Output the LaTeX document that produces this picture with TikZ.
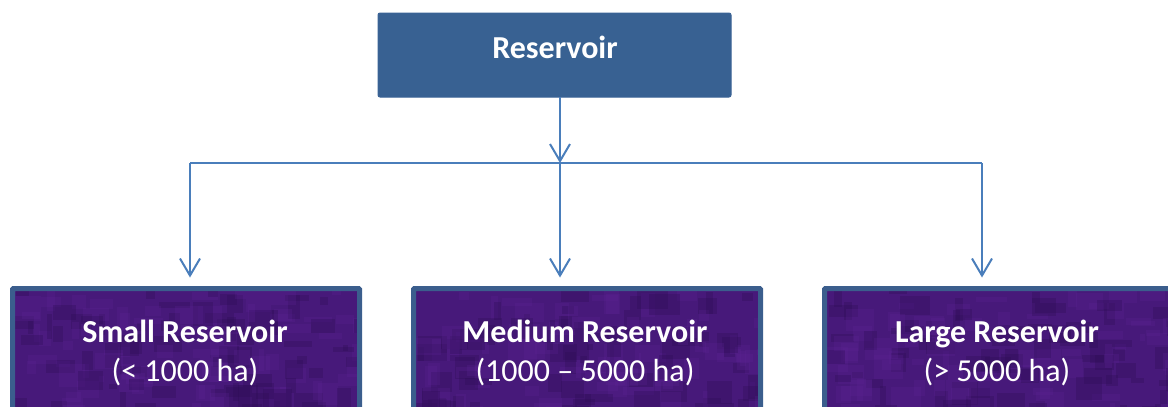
\documentclass[tikz,border=0pt]{standalone}
\usepackage{fontspec}
\setmainfont{Carlito}
\usetikzlibrary{arrows.meta,calc}

\definecolor{rootfill}{HTML}{386192}
\definecolor{rootedge}{HTML}{3A6396}
\definecolor{linkblue}{HTML}{4A7EBB}
\definecolor{catedge}{HTML}{3B5E8D}
\definecolor{catfill}{HTML}{47197A}
\definecolor{catdark}{HTML}{2E0C55}
\definecolor{catlight}{HTML}{5C2494}

\tikzset{
  rootbox/.style={draw=rootedge, fill=rootfill, line width=1pt, rounded corners=2pt,
    minimum width=353pt, minimum height=84pt, inner sep=0pt, outer sep=0pt},
  catbox/.style={fill=catfill, rounded corners=1pt,
    minimum width=347pt, minimum height=200pt, inner sep=0pt, outer sep=0pt},
  catframe/.style={draw=catedge, line width=5pt, rounded corners=1pt},
  speckdark/.style={fill=catdark, opacity=0.30},
  specklight/.style={fill=catlight, opacity=0.25},
  titletext/.style={text=white, font=\fontsize{32}{38}\selectfont\bfseries, inner sep=0pt, anchor=base},
  rangetext/.style={text=white, font=\fontsize{32}{38}\selectfont, inner sep=0pt, anchor=base},
  link/.style={draw=linkblue, line width=2pt,
    -{Straight Barb[length=17pt, width=20pt, line width=2pt]}},
  bus/.style={draw=linkblue, line width=2pt},
}

% mottled texture over the visible part of a box: #1 = node name, #2 = seed
\newcommand\mottlebox[2]{%
  \begin{scope}
    \clip (#1.north west) rectangle (#1.south east);
    \pgfmathsetseed{#2}
    \foreach \i in {1,...,160}{
      \pgfmathsetmacro\px{rnd*350}
      \pgfmathsetmacro\py{rnd*125}
      \pgfmathsetmacro\pw{5+rnd*26}
      \pgfmathsetmacro\ph{5+rnd*20}
      \ifodd\i
        \fill[speckdark] ($(#1.north west)+(\px,\py)$) rectangle ++(\pw,\ph);
      \else
        \fill[specklight] ($(#1.north west)+(\px,\py)$) rectangle ++(\pw,\ph);
      \fi
    }
  \end{scope}
  \draw[catframe] (#1.north west) rectangle (#1.south east);
}

\begin{document}
\begin{tikzpicture}[x=1pt, y=-1pt]
  \clip (0,0) rectangle (1168,407);

  % root of the hierarchy
  \node[rootbox, anchor=north west] (root) at (378,13) {};
  \node[titletext] (rootlabel) at (555,58) {Reservoir};

  % three size classes
  \node[catbox, anchor=north west] (small) at (12.5,288.5) {};
  \node[catbox, anchor=north west] (medium) at (413.5,288.5) {};
  \node[catbox, anchor=north west] (large) at (824.5,288.5) {};
  \mottlebox{small}{11}
  \mottlebox{medium}{23}
  \mottlebox{large}{37}

  \node[titletext] (smallname) at (185,342) {Small Reservoir};
  \node[rangetext] (smallrange) at (185,381) {(< 1000 ha)};
  \node[titletext] (mediumname) at (585,342) {Medium Reservoir};
  \node[rangetext] (mediumrange) at (585,381) {(1000 – 5000 ha)};
  \node[titletext] (largename) at (997,342) {Large Reservoir};
  \node[rangetext] (largerange) at (997,381) {(> 5000 ha)};

  % distribution bus
  \coordinate (hub) at (560,163);
  \coordinate (busleft) at (190,163);
  \coordinate (busright) at (982,163);

  \draw[link] (root.south -| hub) -- (hub);
  \draw[bus] (busleft) -- (busright);
  \draw[link, shorten >=11pt] (busleft) -- (small.north -| busleft);
  \draw[link, shorten >=11pt] (hub) -- (medium.north -| hub);
  \draw[link, shorten >=11pt] (busright) -- (large.north -| busright);
\end{tikzpicture}
\end{document}
